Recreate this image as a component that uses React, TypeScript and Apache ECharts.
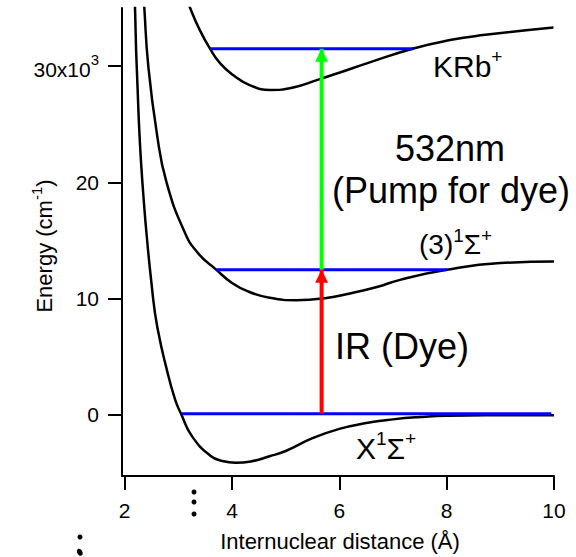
import React, { useEffect, useRef } from "react";
import * as echarts from "echarts";

const FONT = "'Liberation Sans', Arial, Helvetica, sans-serif";

// Potential curves: [internuclear distance (Å), energy (cm^-1)]
const groundState: [number, number][] = [
  [2.18, 36500], [2.192, 35100], [2.224, 30000], [2.33, 20000], [2.53, 10000],
  [2.63, 7040], [2.77, 4175], [2.94, 1314], [3.06, 0], [3.25, -1800],
  [3.59, -3480], [3.82, -3960], [4.07, -4110], [4.35, -4000], [4.7, -3550],
  [5.0, -3100], [5.5, -2000], [6.0, -1200], [6.5, -700], [7.0, -380],
  [7.5, -180], [8.0, -70], [9.0, -30], [10.0, -20],
];

const excitedState: [number, number][] = [
  [2.35, 36500], [2.365, 35100], [2.44, 30000], [2.6, 24200], [2.78, 20000],
  [3.12, 15700], [3.37, 13900], [3.71, 12480], [4.0, 11350], [4.3, 10620],
  [4.7, 10080], [5.2, 9870], [5.7, 10020], [6.2, 10450], [6.7, 11000],
  [7.13, 11620], [8.0, 12480], [9.0, 13060], [10.0, 13200],
];

const ionState: [number, number][] = [
  [3.17, 35700], [3.22, 35000], [3.4, 33100], [3.59, 31500], [3.78, 30240],
  [4.02, 29230], [4.33, 28370], [4.71, 27950], [5.14, 28170], [5.58, 28800],
  [6.01, 29450], [6.51, 30240], [7.38, 31520], [8.06, 32240], [8.68, 32670],
  [9.99, 33330],
];

// Vibrational levels (blue lines)
const levelEnergy = [100, 12480, 31500];
const levelStart = [3.06, 3.71, 3.59];
const levelEnd = [9.95, 8.0, 7.38];

// Transition arrows
const transitionR = 5.67;
const irFrom = 100;
const irTo = 12480;
const pumpFrom = 12480;
const pumpTo = 31500;

const xTicks = [2, 4, 6, 8, 10];
const yTicks = [0, 10000, 20000, 30000];

export default function App() {
  const ref = useRef<HTMLDivElement>(null);

  useEffect(() => {
    document.body.style.margin = "0";
    const chart = echarts.init(ref.current!, null, { renderer: "svg" });

    const curve = (name: string, data: [number, number][]) => ({
      type: "line",
      name,
      data,
      smooth: 0.5,
      symbol: "none",
      clip: true,
      silent: true,
      emphasis: { disabled: true },
      lineStyle: { color: "#000", width: 2.5 },
      z: 2,
    });

    const level = (i: number) => ({
      type: "line",
      data: [
        [levelStart[i], levelEnergy[i]],
        [levelEnd[i], levelEnergy[i]],
      ],
      symbol: "none",
      silent: true,
      emphasis: { disabled: true },
      lineStyle: { color: "#0000FF", width: 3 },
      z: 3,
    });

    const arrow = (from: number, to: number, color: string) => ({
      type: "line",
      symbol: "triangle",
      symbolSize: [13, 13],
      symbolOffset: [0, 6.5],
      showSymbol: true,
      silent: true,
      emphasis: { disabled: true },
      data: [
        { value: [transitionR, from], symbol: "none" },
        { value: [transitionR, to] },
      ],
      itemStyle: { color, borderWidth: 0 },
      lineStyle: { color, width: 4 },
      z: 4,
    });

    const rich = (main: number, sup: number) => ({
      m: { fontSize: main, fontFamily: FONT, color: "#000", lineHeight: main + 4, verticalAlign: "bottom" },
      s: { fontSize: sup, fontFamily: FONT, color: "#000", lineHeight: sup + 2, verticalAlign: "top" },
    });

    const text = (x: number, y: number, t: string, size: number, align = "left", r?: any, rotation = 0) => ({
      type: "text",
      x,
      y,
      rotation,
      silent: true,
      style: {
        text: t,
        fill: "#000",
        fontSize: size,
        fontFamily: FONT,
        align,
        textAlign: align,
        verticalAlign: "middle",
        textVerticalAlign: "middle",
        rich: r,
      },
    });

    chart.setOption({
      animation: false,
      grid: { left: 122, right: 22, top: 8, bottom: 81, containLabel: false },
      xAxis: {
        type: "value",
        min: 1.95,
        max: 10,
        axisLine: { show: true, onZero: false, lineStyle: { color: "#000", width: 2 } },
        axisTick: { show: true, customValues: xTicks, length: 14, lineStyle: { color: "#000", width: 2 } },
        axisLabel: { customValues: xTicks, color: "#000", fontSize: 21, fontFamily: FONT, margin: 24 },
        splitLine: { show: false },
      },
      yAxis: {
        type: "value",
        min: -5250,
        max: 35000,
        axisLine: { show: true, onZero: false, lineStyle: { color: "#000", width: 2 } },
        axisTick: { show: true, customValues: yTicks, length: 14, lineStyle: { color: "#000", width: 2 } },
        axisLabel: {
          customValues: yTicks,
          color: "#000",
          fontSize: 21,
          fontFamily: FONT,
          margin: 23,
          formatter: (v: number) => (v === 30000 ? "{a|30x10}{b|3}" : String(v / 1000)),
          rich: {
            a: { fontSize: 21, fontFamily: FONT, color: "#000", lineHeight: 28, verticalAlign: "bottom" },
            b: { fontSize: 15, fontFamily: FONT, color: "#000", lineHeight: 15, verticalAlign: "top" },
          },
        },
        splitLine: { show: false },
      },
      series: [
        curve("X1Σ+", groundState),
        curve("(3)1Σ+", excitedState),
        curve("KRb+", ionState),
        level(0),
        level(1),
        level(2),
        arrow(irFrom, irTo, "#FF0000"),
        arrow(pumpFrom, pumpTo, "#00FF00"),
      ],
      graphic: [
        text(433, 64, "{m|KRb}{s|+}", 30, "left", rich(30, 19)),
        text(450, 148, "532nm", 36, "center"),
        text(451, 190, "(Pump for dye)", 36, "center"),
        text(419, 242, "{m|(3)}{s|1}{m|Σ}{s|+}", 28, "left", rich(28, 19)),
        text(335, 346, "IR (Dye)", 36, "left"),
        text(356, 446, "{m|X}{s|1}{m|Σ}{s|+}", 30, "left", rich(30, 19)),
        text(340, 541, "Internuclear distance (Å)", 22, "center"),
        text(42, 246, "{m|Energy (cm}{s|-1}{m|)}", 22, "center", rich(22, 15), Math.PI / 2),
        { type: "circle", shape: { cx: 194, cy: 492, r: 2.5 }, style: { fill: "#000" }, silent: true },
        { type: "circle", shape: { cx: 194, cy: 502, r: 2.5 }, style: { fill: "#000" }, silent: true },
        { type: "circle", shape: { cx: 194, cy: 514, r: 2.5 }, style: { fill: "#000" }, silent: true },
        { type: "circle", shape: { cx: 80, cy: 537, r: 2.5 }, style: { fill: "#000" }, silent: true },
        { type: "ellipse", shape: { cx: 80, cy: 552, rx: 2.6, ry: 3.8 }, rotation: 0.5, originX: 80, originY: 552, style: { fill: "#000" }, silent: true },
      ],
    });

    return () => chart.dispose();
  }, []);

  return <div ref={ref} style={{ width: 576, height: 557 }} />;
}
